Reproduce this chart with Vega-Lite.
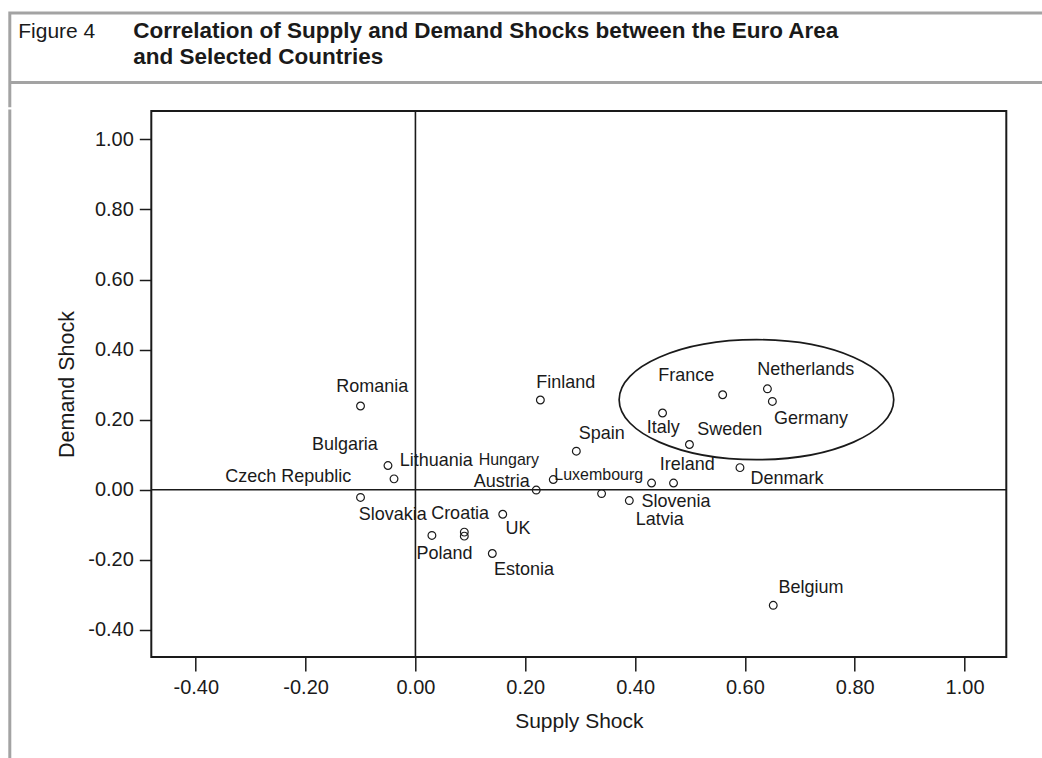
{
  "$schema": "https://vega.github.io/schema/vega-lite/v6.json",
  "background": "white",
  "padding": {"left": 6.8, "top": 10, "right": 0, "bottom": 0},
  "spacing": 0,
  "config": {
    "font": "Liberation Sans",
    "axis": {"grid": false},
    "view": {"stroke": null}
  },
  "vconcat": [
    {
      "width": 1032,
      "height": 92.7,
      "view": {"stroke": "#a3a3a3", "strokeWidth": 3, "strokeCap": "square", "strokeDash": [1032, 1124.7, 92.7, 0], "fill": "white"},
      "data": {"values": [{"k": "Figure 4"}]},
      "mark": {"type": "point", "opacity": 0},
      "encoding": {
        "x": {
          "field": "k", "type": "nominal",
          "axis": {"orient": "bottom", "offset": -23.7, "title": "Figure 4",
                   "domain": true, "domainColor": "#a3a3a3", "domainWidth": 3,
                   "ticks": false, "labels": false,
                   "titleAnchor": "start", "titleAlign": "left", "titleBaseline": "alphabetic",
                   "titleX": 8, "titleY": -45, "titleFontWeight": "normal", "titleFontSize": 21,
                   "titleColor": "#1a1a1a", "titleFont": "Liberation Sans"}
        },
        "y": {
          "field": "k", "type": "nominal",
          "axis": {"orient": "left", "title": ["Correlation of Supply and Demand Shocks between the Euro Area", "and Selected Countries"],
                   "domain": false, "ticks": false, "labels": false,
                   "titleAngle": 0, "titleAnchor": "start", "titleAlign": "left", "titleBaseline": "alphabetic",
                   "titleX": 123, "titleY": 24, "titleLineHeight": 26.5, "titleFontWeight": "bold", "titleFontSize": 22.5,
                   "titleColor": "#1a1a1a", "titleFont": "Liberation Sans"}
        }
      }
    },
    {
      "spacing": 41.5,
      "hconcat": [
        {
          "width": 1,
          "height": 680,
          "view": {"stroke": "#a3a3a3", "strokeWidth": 3, "strokeCap": "square", "strokeDash": [0, 682, 680, 0]},
          "data": {"values": [{}]},
          "mark": {"type": "text", "text": ""},
          "encoding": {}
        },
        {
          "width": 855,
          "height": 546,
          "view": {"stroke": "#1a1a1a", "strokeWidth": 2, "fill": "white"},
          "data": {"values": [
            {"name": "Romania", "supply": -0.100, "demand": 0.239, "lx": -0.0786, "ly": 0.293},
            {"name": "Finland", "supply": 0.2275, "demand": 0.256, "lx": 0.2739, "ly": 0.3044},
            {"name": "France", "supply": 0.5595, "demand": 0.271, "lx": 0.4933, "ly": 0.3244},
            {"name": "Netherlands", "supply": 0.641, "demand": 0.288, "lx": 0.7106, "ly": 0.3427},
            {"name": "Germany", "supply": 0.650, "demand": 0.252, "lx": 0.7202, "ly": 0.2007},
            {"name": "Italy", "supply": 0.450, "demand": 0.219, "lx": 0.4514, "ly": 0.175},
            {"name": "Sweden", "supply": 0.499, "demand": 0.129, "lx": 0.5724, "ly": 0.1693},
            {"name": "Spain", "supply": 0.293, "demand": 0.110, "lx": 0.3393, "ly": 0.1599},
            {"name": "Bulgaria", "supply": -0.050, "demand": 0.069, "lx": -0.1285, "ly": 0.1265},
            {"name": "Lithuania", "supply": -0.039, "demand": 0.031, "lx": 0.0377, "ly": 0.0817},
            {"name": "Czech Republic", "supply": -0.100, "demand": -0.022, "lx": -0.2317, "ly": 0.036},
            {"name": "Austria", "supply": 0.220, "demand": -0.001, "lx": 0.1573, "ly": 0.0208},
            {"name": "Hungary", "supply": 0.251, "demand": 0.029, "lx": 0.1702, "ly": 0.0837},
            {"name": "Luxembourg", "supply": 0.339, "demand": -0.011, "lx": 0.3338, "ly": 0.0428},
            {"name": "Slovenia", "supply": 0.3895, "demand": -0.031, "lx": 0.4745, "ly": -0.0354},
            {"name": "Latvia", "supply": 0.430, "demand": 0.019, "lx": 0.4448, "ly": -0.0857},
            {"name": "Ireland", "supply": 0.470, "demand": 0.019, "lx": 0.4949, "ly": 0.0694},
            {"name": "Denmark", "supply": 0.591, "demand": 0.063, "lx": 0.6766, "ly": 0.0294},
            {"name": "Croatia", "supply": 0.089, "demand": -0.121, "lx": 0.0814, "ly": -0.0705},
            {"name": "Poland", "supply": 0.089, "demand": -0.1325, "lx": 0.0531, "ly": -0.1828},
            {"name": "Slovakia", "supply": 0.030, "demand": -0.1305, "lx": -0.0415, "ly": -0.0734},
            {"name": "UK", "supply": 0.159, "demand": -0.070, "lx": 0.1866, "ly": -0.1114},
            {"name": "Estonia", "supply": 0.140, "demand": -0.182, "lx": 0.1979, "ly": -0.2284},
            {"name": "Belgium", "supply": 0.6516, "demand": -0.330, "lx": 0.7202, "ly": -0.281}
          ]},
          "layer": [
            {
              "data": {"values": [{}]},
              "mark": {"type": "rule", "color": "#1a1a1a", "strokeWidth": 1.6},
              "encoding": {
                "x": {"datum": 0, "type": "quantitative", "scale": {"domain": [-0.481, 1.076], "nice": false, "zero": false}}
              }
            },
            {
              "data": {"values": [{}]},
              "mark": {"type": "rule", "color": "#1a1a1a", "strokeWidth": 1.6},
              "encoding": {
                "y": {"datum": 0, "type": "quantitative", "scale": {"domain": [-0.4775, 1.081], "nice": false, "zero": false}}
              }
            },
            {
              "data": {"values": [{"cx": 0.621, "cy": 0.257}]},
              "mark": {"type": "point", "shape": "M -1 0 A 1 0.437 0 1 1 1 0 A 1 0.437 0 1 1 -1 0 Z", "size": 75405, "filled": false, "stroke": "#1a1a1a", "strokeWidth": 1.7, "opacity": 1},
              "encoding": {
                "x": {"field": "cx", "type": "quantitative", "scale": {"domain": [-0.481, 1.076], "nice": false, "zero": false}},
                "y": {"field": "cy", "type": "quantitative", "scale": {"domain": [-0.4775, 1.081], "nice": false, "zero": false}}
              }
            },
            {
              "mark": {"type": "point", "shape": "circle", "filled": false, "size": 60, "stroke": "#1a1a1a", "strokeWidth": 1.2, "opacity": 1},
              "encoding": {
                "x": {
                  "field": "supply", "type": "quantitative",
                  "scale": {"domain": [-0.481, 1.076], "nice": false, "zero": false},
                  "axis": {
                    "values": [-0.4, -0.2, 0, 0.2, 0.4, 0.6, 0.8, 1.0],
                    "labelExpr": "replace(format(datum.value, '.2f'), '−', '-')",
                    "domain": false, "grid": false,
                    "tickSize": 14, "tickWidth": 1.5, "tickColor": "#1a1a1a",
                    "labelFontSize": 20, "labelColor": "#1a1a1a", "labelPadding": 7,
                    "title": "Supply Shock", "titleFontSize": 21, "titleFontWeight": "normal",
                    "titleColor": "#1a1a1a", "titlePadding": 13
                  }
                },
                "y": {
                  "field": "demand", "type": "quantitative",
                  "scale": {"domain": [-0.4775, 1.081], "nice": false, "zero": false},
                  "axis": {
                    "values": [-0.4, -0.2, 0, 0.2, 0.4, 0.6, 0.8, 1.0],
                    "labelExpr": "replace(format(datum.value, '.2f'), '−', '-')",
                    "domain": false, "grid": false,
                    "tickSize": 12, "tickWidth": 1.5, "tickColor": "#1a1a1a",
                    "labelFontSize": 20, "labelColor": "#1a1a1a", "labelPadding": 6,
                    "title": "Demand Shock", "titleFontSize": 21.5, "titleFontWeight": "normal",
                    "titleColor": "#1a1a1a", "titlePadding": 9
                  }
                }
              }
            },
            {
              "mark": {"type": "text", "align": "center", "baseline": "middle", "color": "#1a1a1a"},
              "encoding": {
                "x": {"field": "lx", "type": "quantitative", "scale": {"domain": [-0.481, 1.076], "nice": false, "zero": false}},
                "y": {"field": "ly", "type": "quantitative", "scale": {"domain": [-0.4775, 1.081], "nice": false, "zero": false}},
                "text": {"field": "name"},
                "size": {"condition": {"test": "indexof(['Hungary', 'Luxembourg'], datum.name) >= 0", "value": 16}, "value": 18}
              }
            }
          ]
        }
      ]
    }
  ]
}
